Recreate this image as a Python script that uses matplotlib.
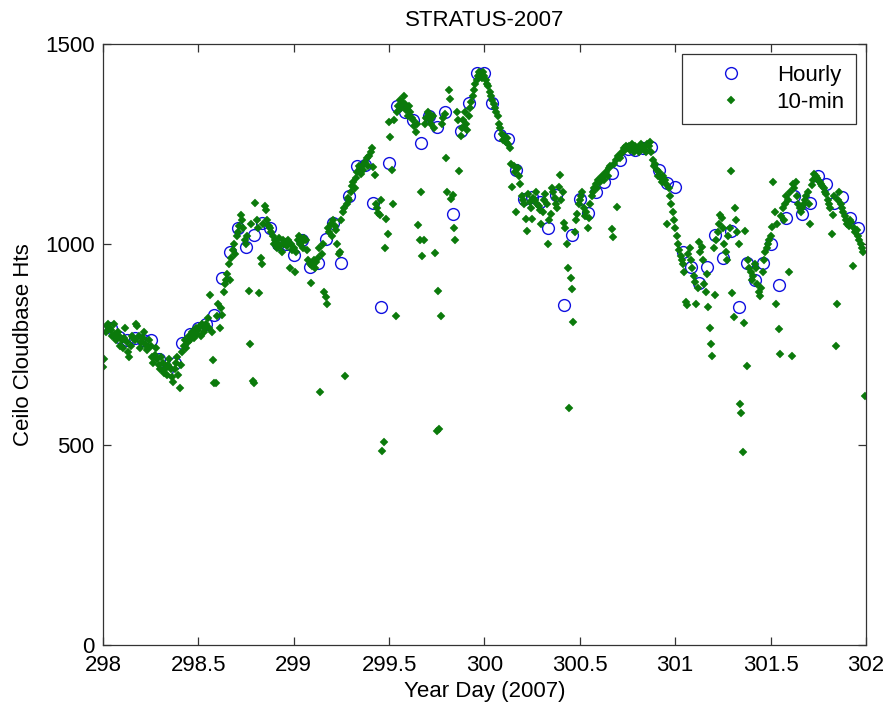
import matplotlib
matplotlib.use("Agg")
import matplotlib.pyplot as plt
import numpy as np

plt.rcParams['font.family'] = ['Liberation Sans', 'DejaVu Sans']

# hourly ceilometer cloudbase (hours 1..95 after day 298.0)
hourly_hours = list(range(1, 96))
hourly_vals = [
    790, 769, 762, 765, 760, 761, 713, 686, 703, 753,
    775, 790, 800, 823, 915, 981, 1040, 994, 1023, 1052,
    1040, 1002, 1000, 973, 1011, 944, 953, 1013, 1052, 953,
    1120, 1195, 1198, 1102, 844, 1202, 1345, 1330, 1310, 1254,
    1320, 1292, 1331, 1076, 1284, 1353, 1427, 1427, 1353, 1273,
    1264, 1185, 1114, 1119, 1106, 1040, 1123, 849, 1023, 1114,
    1079, 1131, 1156, 1177, 1210, 1239, 1235, 1240, 1244, 1185,
    1152, 1142, 981, 944, 904, 944, 1023, 965, 1034, 844,
    954, 911, 954, 1001, 898, 1065, 1121, 1076, 1104, 1170,
    1150, 1102, 1119, 1065, 1040,
]

# 10-min values, one row per hour (6 per hour) starting at day 298.0
tenmin_vals = [
    695, 715, 780, 795, 800, 790,
    785, 770, 800, 775, 760, 780,
    770, 745, 760, 740, 765, 790,
    755, 730, 720, 745, 770, 765,
    760, 800, 795, 770, 740, 755,
    765, 780, 750, 735, 740, 760,
    745, 720, 705, 725, 740, 715,
    700, 690, 720, 705, 680, 690,
    675, 700, 715, 690, 670, 657,
    690, 705, 720, 675, 642, 700,
    730, 745, 760, 740, 755, 770,
    760, 780, 770, 765, 790, 775,
    785, 795, 770, 800, 780, 790,
    800, 815, 790, 873, 780, 711,
    653, 653, 820, 851, 790, 840,
    823, 880, 900, 910, 925, 950,
    911, 965, 985, 1000, 975, 1020,
    1030, 1045, 1073, 1060, 1040, 1010,
    1000, 1020, 884, 751, 1050, 659,
    653, 1104, 1060, 1040, 878, 965,
    952, 1050, 1095, 1085, 1060, 1045,
    1040, 1030, 1020, 1000, 1010, 990,
    1000, 1015, 995, 980, 1010, 1000,
    1005, 995, 1010, 941, 1000, 985,
    990, 932, 980, 1010, 1020, 1000,
    1005, 990, 1015, 1010, 985, 960,
    950, 903, 945, 960, 940, 955,
    965, 990, 631, 975, 1000, 882,
    869, 851, 1040, 1030, 1050, 1020,
    1060, 1045, 1035, 1000, 975, 980,
    1060, 1080, 1090, 671, 1100, 1115,
    1110, 1130, 1145, 1155, 1140, 1165,
    1180, 1195, 1190, 1175, 1185, 1200,
    1205, 1215, 1195, 1220, 1230, 1240,
    1194, 1173, 1100, 1090, 1079, 1073,
    1110, 484, 507, 992, 1062, 1027,
    1306, 1268, 1185, 1100, 1310, 821,
    1330, 1345, 1360, 1340, 1355, 1370,
    1350, 1335, 1320, 1345, 1330, 1315,
    1310, 1295, 1280, 1300, 1048, 1011,
    1131, 971, 1011, 1300, 1315, 1330,
    1325, 1310, 1300, 1320, 1290, 979,
    535, 884, 538, 821, 1300, 1315,
    1325, 1215, 1131, 1385, 1362, 1112,
    1123, 1040, 1011, 1330, 1310, 1184,
    1270, 1290, 1310, 1330, 1300, 1285,
    1320, 1340, 1355, 1370, 1385, 1400,
    1410, 1420, 1430, 1425, 1415, 1430,
    1420, 1410, 1400, 1395, 1380, 1370,
    1360, 1350, 1340, 1330, 1320, 1300,
    1290, 1275, 1260, 1270, 1255, 1265,
    1250, 1240, 1200, 1144, 1195, 1180,
    1081, 1190, 1170, 1150, 1120, 1110,
    1100, 1062, 1034, 1125, 1105, 1090,
    1062, 1115, 1110, 1130, 1100, 1095,
    1085, 1050, 1080, 1110, 1125, 1100,
    1002, 1060, 1075, 1140, 1130, 1115,
    1100, 1090, 1144, 1173, 1110, 1130,
    1052, 1040, 1000, 942, 591, 917,
    888, 807, 1030, 1060, 1075, 1100,
    1110, 1120, 1130, 1090, 1070, 1080,
    1040, 1065, 1100, 1120, 1130, 1140,
    1150, 1140, 1160, 1155, 1165, 1170,
    1160, 1175, 1180, 1170, 1190, 1195,
    1037, 1019, 1200, 1210, 1094, 1220,
    1215, 1225, 1230, 1240, 1235, 1245,
    1240, 1245, 1235, 1250, 1240, 1230,
    1245, 1240, 1235, 1230, 1250, 1245,
    1240, 1235, 1230, 1250, 1245, 1255,
    1230, 1210, 1195, 1200, 1185, 1170,
    1180, 1165, 1155, 1170, 1160, 1150,
    1051, 1140, 1120, 1100, 1080, 1060,
    1040, 1020, 1000, 985, 970, 960,
    950, 930, 857, 849, 975, 990,
    960, 940, 920, 905, 851, 890,
    1006, 980, 994, 960, 900, 880,
    925, 843, 792, 751, 721, 990,
    873, 1010, 1030, 1050, 1073, 1065,
    1040, 1000, 980, 960, 1020, 1040,
    1184, 878, 818, 1090, 1060, 1030,
    1000, 601, 580, 481, 803, 1034,
    696, 960, 940, 930, 910, 920,
    950, 940, 900, 880, 870, 890,
    930, 960, 980, 990, 1000, 1010,
    1020, 1042, 1156, 1081, 851, 1050,
    788, 726, 1070, 1090, 1060, 1100,
    1120, 1110, 932, 1130, 721, 1150,
    1140, 1156, 1120, 1100, 1090, 1080,
    1090, 1100, 1110, 1120, 1130, 1100,
    1051, 1148, 1160, 1175, 1170, 1165,
    1160, 1155, 1150, 1145, 1140, 1130,
    1125, 1110, 1100, 1090, 1026, 1073,
    1120, 747, 851, 1110, 1130, 1100,
    1090, 1080, 1070, 1060, 1050, 1045,
    1060, 1055, 946, 1040, 1030, 1035,
    1020, 1010, 1000, 990, 980, 621,
]

start_day = 298.0
hourly_t = start_day + np.array(hourly_hours) / 24.0
tenmin_t = start_day + np.arange(len(tenmin_vals)) / 144.0

FS = 16

fig = plt.figure(figsize=(8.9, 7.13), dpi=100)
ax = fig.add_axes([0.1157, 0.0954, 0.8573, 0.8429])

ax.plot(hourly_t, hourly_vals, 'o', mfc='none', mec='#1010e0', ms=8.5, mew=1.0,
        label='Hourly')
ax.plot(tenmin_t, tenmin_vals, 'D', color='#0b7a0b', ms=3.6, mew=0.3,
        label='10-min')

ax.set_xlim(298, 302)
ax.set_ylim(0, 1500)
ax.set_xticks(np.arange(298, 302.01, 0.5))
ax.set_xticklabels(['298', '298.5', '299', '299.5', '300', '300.5', '301', '301.5', '302'])
ax.set_yticks([0, 500, 1000, 1500])
ax.tick_params(direction='in', top=True, right=True, length=5.5, labelsize=FS,
               width=0.9, color='#333333')
ax.tick_params(axis='x', pad=7)
ax.tick_params(axis='y', pad=6)
for s in ax.spines.values():
    s.set_linewidth(0.9)
    s.set_color('#333333')

ax.set_title('STRATUS-2007', fontsize=FS, pad=13)
ax.set_xlabel('Year Day (2007)', fontsize=FS, labelpad=4)
ax.set_ylabel('Ceilo Cloudbase Hts', fontsize=FS, labelpad=8)

leg = ax.legend(loc='upper right', fontsize=FS, fancybox=False, edgecolor='#333333',
                borderaxespad=0.45, handlelength=3.4, handletextpad=0.35,
                borderpad=0.5, labelspacing=0.25, framealpha=1)
leg.get_frame().set_linewidth(0.9)

fig.savefig('out.png', dpi=100)
